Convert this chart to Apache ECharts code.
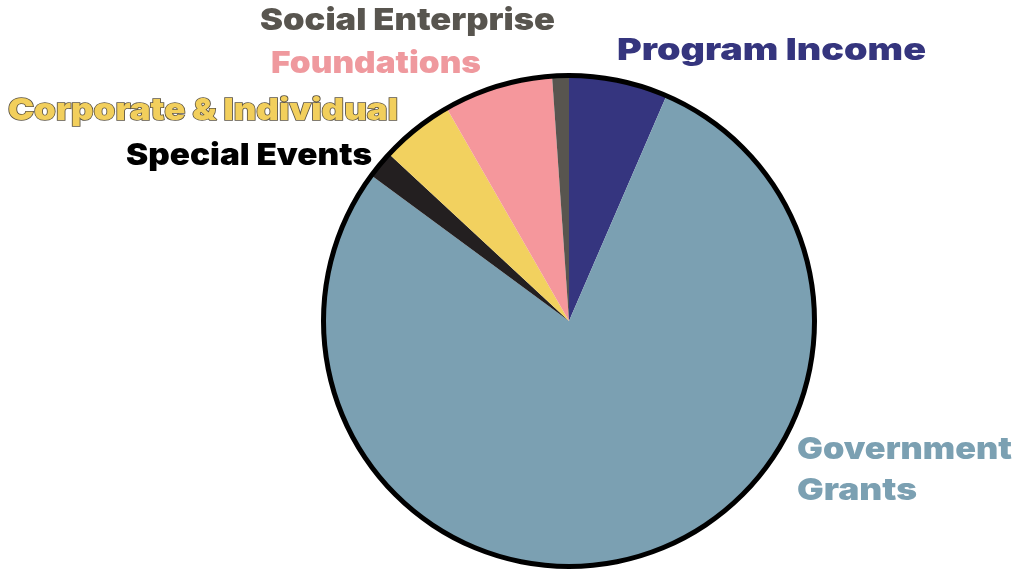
<!DOCTYPE html>
<html>
<head>
<meta charset="utf-8">
<script src="https://cdn.jsdelivr.net/npm/echarts@6/dist/echarts.min.js"></script>
<style>html,body{margin:0;padding:0;background:#fff}#c{width:1014px;height:569px}</style>
</head>
<body>
<div id="c"></div>
<script>
// Data (percent share), clockwise from 12 o'clock
const categories = ['Program Income', 'Government Grants', 'Special Events', 'Corporate & Individual', 'Foundations', 'Social Enterprise'];
const values = [6.5, 78.6, 1.8, 4.8, 7.2, 1.1];
const sliceColors = ['#35357f', '#7ba0b2', '#231f20', '#f2d15f', '#f5979c', '#58554f'];

// Label layout (text lines, left x, cap-middle y, target width, colors)
const labelDefs = [
  { lines: ['Program Income'], x: 617, y: [51], w: [309], fill: '#35357e' },
  { lines: ['Government', 'Grants'], x: 797, y: [450, 491], w: [215, 120], fill: '#7ba0b2' },
  { lines: ['Special Events'], x: 126, y: [156], w: [246], fill: '#000000' },
  { lines: ['Corporate & Individual'], x: 8, y: [111], w: [390], fill: '#f2cf5c', stroke: '#5b5344' },
  { lines: ['Foundations'], x: 271, y: [64], w: [210], fill: '#ef999e' },
  { lines: ['Social Enterprise'], x: 260, y: [21], w: [295], fill: '#58554f' }
];

const FONT = '900 30px Inter';
const cv = document.createElement('canvas').getContext('2d');
cv.font = FONT;

const graphics = [];
labelDefs.forEach(function (d) {
  d.lines.forEach(function (t, i) {
    const mw = cv.measureText(t).width;
    graphics.push({
      type: 'text',
      x: d.x,
      y: d.y[i],
      scaleX: d.w[i] / mw,
      silent: true,
      style: {
        text: t,
        font: FONT,
        fill: d.fill,
        stroke: d.stroke || null,
        lineWidth: d.stroke ? 1.5 : 0,
        align: 'left',
        verticalAlign: 'middle'
      }
    });
  });
});

const chart = echarts.init(document.getElementById('c'));
chart.setOption({
  animation: false,
  backgroundColor: '#ffffff',
  series: [
    {
      type: 'pie',
      center: [569, 321],
      radius: [0, 244],
      startAngle: 90,
      clockwise: true,
      silent: true,
      label: { show: false },
      labelLine: { show: false },
      itemStyle: { borderWidth: 0 },
      data: categories.map(function (n, i) {
        return { name: n, value: values[i], itemStyle: { color: sliceColors[i] } };
      })
    },
    {
      type: 'pie',
      center: [569, 321],
      radius: [243, 248],
      silent: true,
      label: { show: false },
      labelLine: { show: false },
      itemStyle: { color: '#000000', borderWidth: 0 },
      data: [{ name: 'outline', value: 1 }]
    }
  ],
  graphic: graphics
});
</script>
</body>
</html>
